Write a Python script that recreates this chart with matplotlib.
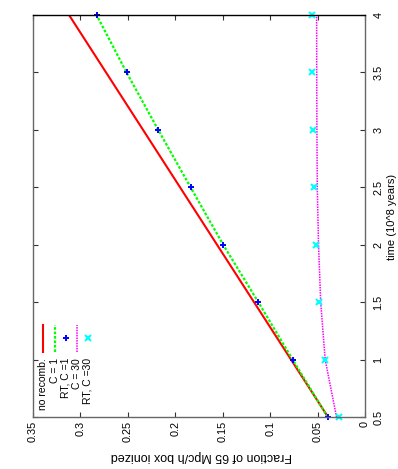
import numpy as np
import matplotlib.pyplot as plt

plt.rcParams['font.family'] = ['Liberation Sans', 'DejaVu Sans']

# =============================
# Data
# =============================
time = [0.5, 1.0, 1.5, 2.0, 2.5, 3.0, 3.5, 4.0]
no_recomb = [0.039, 0.078, 0.117, 0.156, 0.195, 0.234, 0.273, 0.312]
c1 = [0.0394, 0.0763, 0.1125, 0.1495, 0.1839, 0.218, 0.2514, 0.283]
rt_c1 = [0.0394, 0.0763, 0.1125, 0.1495, 0.1839, 0.218, 0.2514, 0.283]
c30 = [0.030, 0.042, 0.0467, 0.049, 0.0503, 0.0507, 0.0509, 0.051]
rt_c30 = [0.027, 0.042, 0.0485, 0.0517, 0.0538, 0.0552, 0.0556, 0.0562]

time_ticks = [0.5, 1, 1.5, 2, 2.5, 3, 3.5, 4]
time_labels = ["0.5", "1", "1.5", "2", "2.5", "3", "3.5", "4"]
frac_ticks = [0, 0.05, 0.1, 0.15, 0.2, 0.25, 0.3, 0.35]
frac_labels = ["0", "0.05", "0.1", "0.15", "0.2", "0.25", "0.3", "0.35"]

legend_labels = ["no recomb.", "C = 1", "RT, C =1", "C = 30", "RT, C =30"]

# =============================
# Figure (drawn rotated by 90 degrees)
# =============================
fig = plt.figure(figsize=(3.98, 4.69), dpi=100)
ax = fig.add_axes([33 / 398, 1 - 417 / 469, 332 / 398, 402 / 469])

ax.plot(no_recomb, time, color='#ff0000', lw=1.5)
ax.plot(c1, time, color='#00ff00', lw=1.6, ls=(0, (1.2, 0.8)))
ax.plot(rt_c1, time, ls='none', marker='+', color='#0000ff', ms=4.8, mew=1.4, clip_on=False)
ax.plot(c30, time, color='#ff00ff', lw=1.1, ls=(0, (1, 0.7)))
ax.plot(rt_c30, time, ls='none', marker='x', color='#00ffff', ms=4.3, mew=1.5, clip_on=False)

ax.set_xlim(0.35, 0)
ax.set_ylim(0.5, 4)

ax.set_xticks(frac_ticks)
ax.set_xticklabels(frac_labels, rotation=90, fontsize=7.8)
ax.set_yticks(time_ticks)
ax.set_yticklabels(time_labels, rotation=90, fontsize=7.8, va='center')
ax.yaxis.tick_right()
ax.tick_params(direction='in', length=3.5, width=0.8, top=True, bottom=True,
               left=True, right=True, pad=3, colors='#333333')
ax.tick_params(axis='y', pad=6)
ax.tick_params(labelcolor='black')

for side in ['left', 'bottom', 'right']:
    ax.spines[side].set_color('#666666')
ax.spines['top'].set_color('black')
for s in ax.spines.values():
    s.set_linewidth(1.0)

fig.text(201 / 398, 1 - 456 / 469, "Fraction of 65 Mpc/h box ionized",
         rotation=180, ha='center', va='center', fontsize=9)
fig.text(392 / 398, 1 - 217 / 469, "time (10^8 years)",
         rotation=90, ha='center', va='center', fontsize=8)

# legend (rotated, drawn by hand)
tr = ax.transAxes
lx = [0.031, 0.066, 0.099, 0.133, 0.165]
ax.plot([lx[0], lx[0]], [0.162, 0.229], color='#ff0000', lw=1.5, transform=tr)
ax.plot([lx[1], lx[1]], [0.162, 0.229], color='#00ff00', lw=1.6, ls=(0, (1.2, 0.8)), transform=tr)
ax.plot([lx[2]], [0.196], marker='+', color='#0000ff', ms=4.8, mew=1.4, transform=tr)
ax.plot([lx[3], lx[3]], [0.162, 0.229], color='#ff00ff', lw=1.1, ls=(0, (1, 0.7)), transform=tr)
ax.plot([lx[4]], [0.196], marker='x', color='#00ffff', ms=4.3, mew=1.5, transform=tr)
for x, lab in zip(lx, legend_labels):
    ax.text(x, 0.147, lab, rotation=90, ha='center', va='top', fontsize=7.5, transform=tr)

plt.savefig("out.png", dpi=100)
